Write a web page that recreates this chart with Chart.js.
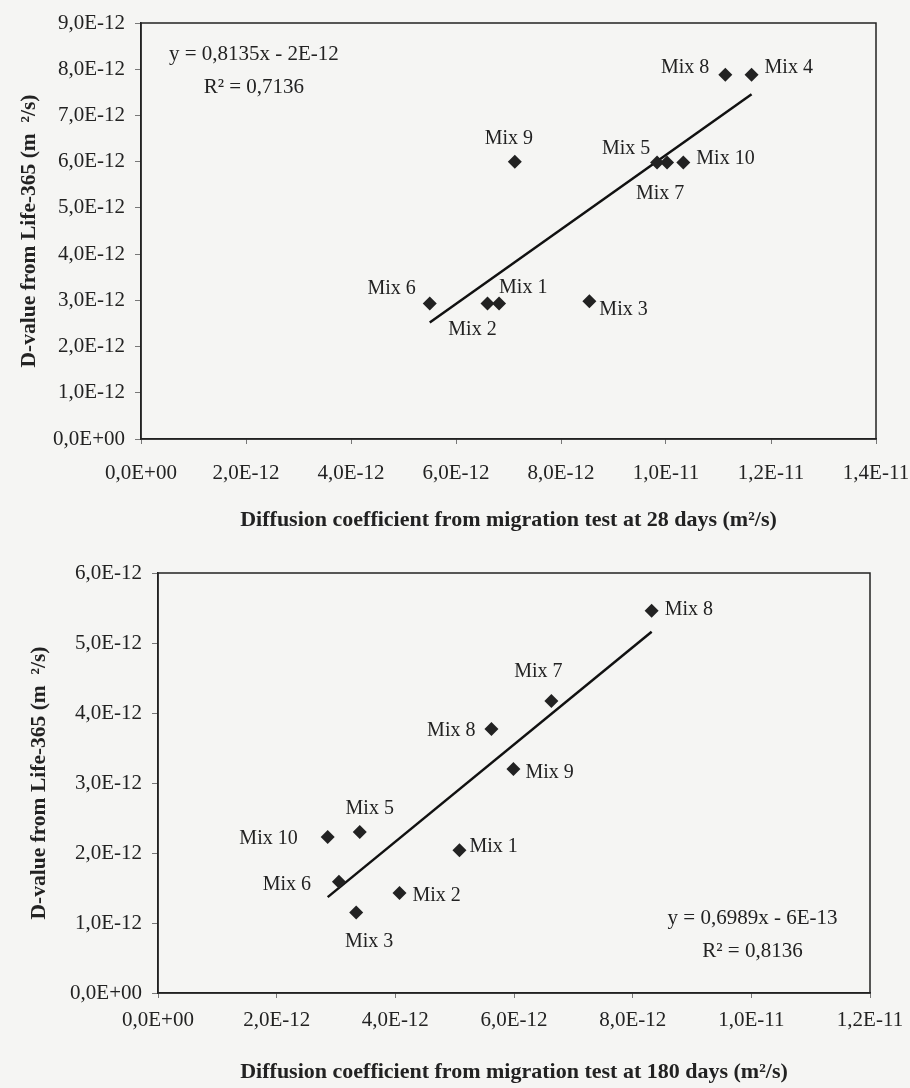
<!DOCTYPE html>
<html>
<head>
<meta charset="utf-8">
<script src="https://cdn.jsdelivr.net/npm/chart.js@4.4.1/dist/chart.umd.min.js"></script>
<style>
  html, body { margin: 0; padding: 0; background: #f5f5f3; }
  #wrap { position: relative; width: 910px; height: 1088px; }
  canvas { position: absolute; left: 0; }
  #chart28 { top: 0; }
  #chart180 { top: 540px; }
</style>
</head>
<body>
<div id="wrap">
  <canvas id="chart28" width="910" height="540"></canvas>
  <canvas id="chart180" width="910" height="548"></canvas>
</div>
<script>
// --- 28 days ---
const mixes28 = ['Mix 1', 'Mix 2', 'Mix 3', 'Mix 4', 'Mix 5', 'Mix 6', 'Mix 7', 'Mix 8', 'Mix 9', 'Mix 10'];
const migration28 = [6.82e-12, 6.60e-12, 8.54e-12, 11.63e-12, 10.02e-12, 5.50e-12, 9.83e-12, 11.13e-12, 7.12e-12, 10.33e-12];
const life365_28 = [2.93e-12, 2.93e-12, 2.98e-12, 7.88e-12, 5.98e-12, 2.93e-12, 5.98e-12, 7.88e-12, 6.00e-12, 5.98e-12];
const trendX28 = [5.50e-12, 11.63e-12];
const trendY28 = [2.52e-12, 7.46e-12];
const xTicks28 = [0, 2e-12, 4e-12, 6e-12, 8e-12, 10e-12, 12e-12, 14e-12];
const xTickLabels28 = ['0,0E+00', '2,0E-12', '4,0E-12', '6,0E-12', '8,0E-12', '1,0E-11', '1,2E-11', '1,4E-11'];
const yTicks28 = [0, 1e-12, 2e-12, 3e-12, 4e-12, 5e-12, 6e-12, 7e-12, 8e-12, 9e-12];
const yTickLabels28 = ['0,0E+00', '1,0E-12', '2,0E-12', '3,0E-12', '4,0E-12', '5,0E-12', '6,0E-12', '7,0E-12', '8,0E-12', '9,0E-12'];
const equation28 = ['y = 0,8135x - 2E-12', 'R² = 0,7136'];

// --- 180 days ---
const mixes180 = ['Mix 1', 'Mix 2', 'Mix 3', 'Mix 5', 'Mix 6', 'Mix 7', 'Mix 8', 'Mix 8', 'Mix 9', 'Mix 10'];
const migration180 = [5.08e-12, 4.07e-12, 3.34e-12, 3.40e-12, 3.05e-12, 6.63e-12, 8.32e-12, 5.62e-12, 5.99e-12, 2.86e-12];
const life365_180 = [2.04e-12, 1.43e-12, 1.15e-12, 2.30e-12, 1.59e-12, 4.17e-12, 5.46e-12, 3.77e-12, 3.20e-12, 2.23e-12];
const trendX180 = [2.86e-12, 8.32e-12];
const trendY180 = [1.37e-12, 5.16e-12];
const xTicks180 = [0, 2e-12, 4e-12, 6e-12, 8e-12, 10e-12, 12e-12];
const xTickLabels180 = ['0,0E+00', '2,0E-12', '4,0E-12', '6,0E-12', '8,0E-12', '1,0E-11', '1,2E-11'];
const yTicks180 = [0, 1e-12, 2e-12, 3e-12, 4e-12, 5e-12, 6e-12];
const yTickLabels180 = ['0,0E+00', '1,0E-12', '2,0E-12', '3,0E-12', '4,0E-12', '5,0E-12', '6,0E-12'];
const equation180 = ['y = 0,6989x - 6E-13', 'R² = 0,8136'];

// label placement next to each diamond: [dx, dy, align] in px
const labelPos28 = [[0, -16, 'left'], [-15, 26, 'center'], [10, 8, 'left'], [13, -7, 'left'], [-41, -14, 'center'],
                    [-14, -15, 'right'], [3, 31, 'center'], [-16, -7, 'right'], [-6, -23, 'center'], [13, -4, 'left']];
const labelPos180 = [[10, -3, 'left'], [13, 3, 'left'], [13, 29, 'center'], [10, -23, 'center'], [-28, 3, 'right'],
                     [-13, -29, 'center'], [13, -1, 'left'], [-16, 2, 'right'], [12, 4, 'left'], [-30, 2, 'right']];

Chart.defaults.font.family = '"Liberation Serif", "Times New Roman", serif';
Chart.defaults.color = '#222';

const ink = '#222';

// frame around the plot area plus point labels and regression text
const decorPlugin = {
    id: 'decor',
    afterDatasetsDraw(chart, args, opts) {
        const ctx = chart.ctx;
        const area = chart.chartArea;
        ctx.save();
        ctx.strokeStyle = ink;
        ctx.lineWidth = 1.5;
        ctx.strokeRect(area.left, area.top, area.right - area.left, area.bottom - area.top);

        ctx.fillStyle = ink;
        ctx.font = '20px "Liberation Serif"';
        ctx.textBaseline = 'middle';
        const meta = chart.getDatasetMeta(0);
        meta.data.forEach((pt, i) => {
            const p = opts.labelPos[i];
            ctx.textAlign = p[2];
            ctx.fillText(opts.names[i], pt.x + p[0], pt.y + p[1]);
        });

        ctx.font = '21px "Liberation Serif"';
        ctx.textAlign = 'center';
        const ex = chart.scales.x.getPixelForValue(opts.eqAt[0]);
        const ey = chart.scales.y.getPixelForValue(opts.eqAt[1]);
        ctx.fillText(opts.equation[0], ex, ey);
        ctx.fillText(opts.equation[1], ex, ey + 33);
        ctx.restore();
    }
};

function makeChart(id, o) {
    const points = o.xs.map((x, i) => ({ x: x, y: o.ys[i] }));
    const trend = o.trendX.map((x, i) => ({ x: x, y: o.trendY[i] }));
    return new Chart(document.getElementById(id).getContext('2d'), {
        type: 'scatter',
        data: {
            datasets: [{
                data: points,
                pointStyle: 'rectRot',
                pointRadius: 7,
                backgroundColor: ink,
                borderColor: ink,
                borderWidth: 0
            }, {
                type: 'line',
                data: trend,
                borderColor: '#111',
                borderWidth: 2.5,
                pointRadius: 0,
                fill: false
            }]
        },
        options: {
            responsive: false,
            animation: false,
            devicePixelRatio: 1,
            layout: { padding: o.padding },
            plugins: {
                legend: { display: false },
                tooltip: { enabled: false },
                decor: { names: o.names, labelPos: o.labelPos, equation: o.equation, eqAt: o.eqAt }
            },
            scales: {
                x: {
                    type: 'linear',
                    min: o.xTicks[0],
                    max: o.xTicks[o.xTicks.length - 1],
                    afterBuildTicks: s => { s.ticks = o.xTicks.map(v => ({ value: v })); },
                    afterFit: s => {
                        s.height = o.xAxisHeight;
                        s.paddingLeft = 0;
                        s.paddingRight = 0;
                    },
                    ticks: {
                        callback: (v, i) => o.xLabels[i],
                        font: { size: 21 },
                        padding: o.xTickPad,
                        maxRotation: 0,
                        autoSkip: false
                    },
                    grid: { drawOnChartArea: false, drawTicks: true, tickLength: 5, color: '#777' },
                    border: { display: true, color: ink, width: 1.5 },
                    title: {
                        display: true,
                        text: o.xTitle,
                        font: { size: 22, weight: 'bold' },
                        padding: { top: 0, bottom: o.xTitlePad }
                    }
                },
                y: {
                    type: 'linear',
                    min: o.yTicks[0],
                    max: o.yTicks[o.yTicks.length - 1],
                    afterBuildTicks: s => { s.ticks = o.yTicks.map(v => ({ value: v })); },
                    afterFit: s => {
                        s.width = o.yAxisWidth;
                        s.paddingTop = 0;
                        s.paddingBottom = 0;
                    },
                    ticks: {
                        callback: (v, i) => o.yLabels[i],
                        font: { size: 21 },
                        padding: 10,
                        autoSkip: false
                    },
                    grid: { drawOnChartArea: false, drawTicks: true, tickLength: 6, color: '#777' },
                    border: { display: true, color: ink, width: 1.5 },
                    title: {
                        display: true,
                        text: 'D-value from Life-365 (m  ²/s)',
                        font: { size: 21.5, weight: 'bold' },
                        padding: { top: o.yTitlePad, bottom: 0 }
                    }
                }
            }
        },
        plugins: [decorPlugin]
    });
}

makeChart('chart28', {
    names: mixes28, xs: migration28, ys: life365_28,
    trendX: trendX28, trendY: trendY28,
    xTicks: xTicks28, xLabels: xTickLabels28,
    yTicks: yTicks28, yLabels: yTickLabels28,
    labelPos: labelPos28, equation: equation28, eqAt: [2.15e-12, 8.32e-12],
    xTitle: 'Diffusion coefficient from migration test at 28 days (m²/s)',
    padding: { top: 23, right: 34, bottom: 0, left: 0 },
    xAxisHeight: 101, yAxisWidth: 141,
    xTickPad: 17, xTitlePad: 6, yTitlePad: 17
});

makeChart('chart180', {
    names: mixes180, xs: migration180, ys: life365_180,
    trendX: trendX180, trendY: trendY180,
    xTicks: xTicks180, xLabels: xTickLabels180,
    yTicks: yTicks180, yLabels: yTickLabels180,
    labelPos: labelPos180, equation: equation180, eqAt: [10.02e-12, 1.07e-12],
    xTitle: 'Diffusion coefficient from migration test at 180 days (m²/s)',
    padding: { top: 33, right: 40, bottom: 0, left: 0 },
    xAxisHeight: 95, yAxisWidth: 158,
    xTickPad: 10, xTitlePad: 2, yTitlePad: 27
});
</script>
</body>
</html>
